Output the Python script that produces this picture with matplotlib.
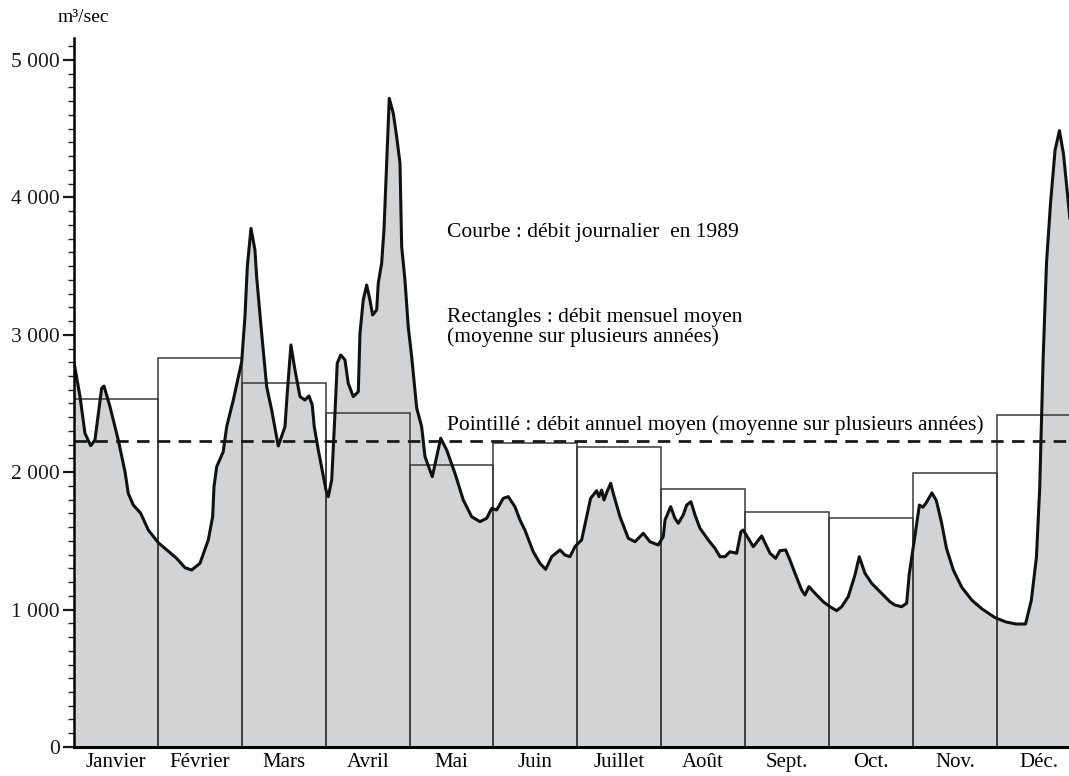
import matplotlib
matplotlib.use("Agg")
import matplotlib.pyplot as plt

# Month names and long-term mean monthly discharge (m3/s)
months = ["Janvier", "Février", "Mars", "Avril", "Mai", "Juin",
          "Juillet", "Août", "Sept.", "Oct.", "Nov.", "Déc."]
monthly_mean = [2530, 2830, 2650, 2430, 2050, 2210,
                2180, 1880, 1710, 1665, 1995, 2415]

# Long-term mean annual discharge
annual_mean = 2225

# Daily discharge in 1989 (x in months from 1 Jan)
day_x = [
    0.000, 0.072, 0.131, 0.199, 0.250, 0.330, 0.358, 0.429, 0.528, 0.608,
    0.647, 0.707, 0.795, 0.886, 1.005, 1.224, 1.323, 1.403, 1.502, 1.601,
    1.653, 1.669, 1.701, 1.779, 1.820, 1.899, 1.999, 2.038, 2.066, 2.110,
    2.157, 2.177, 2.237, 2.297, 2.356, 2.435, 2.515, 2.542, 2.586, 2.634,
    2.694, 2.753, 2.801, 2.840, 2.864, 2.912, 3.004, 3.031, 3.072, 3.111,
    3.138, 3.179, 3.230, 3.269, 3.329, 3.389, 3.409, 3.448, 3.489, 3.528,
    3.560, 3.608, 3.627, 3.667, 3.695, 3.727, 3.758, 3.806, 3.846, 3.886,
    3.906, 3.945, 3.984, 4.025, 4.085, 4.144, 4.184, 4.271, 4.323, 4.371,
    4.442, 4.541, 4.640, 4.740, 4.839, 4.919, 4.979, 5.038, 5.117, 5.176,
    5.256, 5.316, 5.375, 5.474, 5.554, 5.622, 5.694, 5.793, 5.852, 5.912,
    5.971, 6.051, 6.111, 6.158, 6.230, 6.257, 6.290, 6.317, 6.349, 6.397,
    6.428, 6.508, 6.607, 6.687, 6.786, 6.865, 6.964, 7.024, 7.045, 7.112,
    7.163, 7.203, 7.262, 7.303, 7.354, 7.402, 7.461, 7.560, 7.640, 7.700,
    7.759, 7.819, 7.899, 7.950, 7.977, 8.037, 8.097, 8.197, 8.296, 8.363,
    8.415, 8.483, 8.534, 8.594, 8.673, 8.713, 8.760, 8.832, 8.931, 9.011,
    9.091, 9.150, 9.229, 9.309, 9.360, 9.428, 9.508, 9.586, 9.666, 9.726,
    9.785, 9.865, 9.925, 9.956, 10.017, 10.077, 10.118, 10.158, 10.226, 10.279,
    10.340, 10.400, 10.481, 10.582, 10.703, 10.825, 10.977, 11.107, 11.229, 11.342,
    11.411, 11.472, 11.511, 11.552, 11.592, 11.641, 11.694, 11.746, 11.795, 11.870,
]
daily_flow = [
    2800, 2550, 2283, 2193, 2234, 2611, 2627, 2477, 2234, 2004,
    1846, 1761, 1701, 1579, 1487, 1373, 1305, 1288, 1337, 1507,
    1676, 1894, 2040, 2149, 2331, 2525, 2804, 3132, 3496, 3775,
    3617, 3423, 3011, 2622, 2453, 2191, 2331, 2574, 2926, 2744,
    2550, 2525, 2555, 2489, 2331, 2162, 1870, 1822, 1943, 2429,
    2793, 2853, 2817, 2647, 2550, 2586, 3011, 3253, 3362, 3253,
    3144, 3181, 3375, 3520, 3763, 4248, 4721, 4612, 4442, 4248,
    3641, 3399, 3059, 2841, 2467, 2331, 2113, 1967, 2113, 2247,
    2162, 1992, 1798, 1676, 1640, 1664, 1737, 1725, 1810, 1822,
    1749, 1652, 1579, 1421, 1337, 1293, 1385, 1434, 1397, 1385,
    1458, 1507, 1676, 1810, 1865, 1822, 1870, 1798, 1851, 1919,
    1846, 1676, 1519, 1494, 1555, 1494, 1470, 1531, 1652, 1749,
    1664, 1628, 1689, 1761, 1785, 1689, 1592, 1507, 1446, 1385,
    1385, 1421, 1410, 1567, 1579, 1519, 1458, 1536, 1410, 1373,
    1429, 1434, 1361, 1264, 1143, 1106, 1167, 1119, 1057, 1021,
    992, 1021, 1094, 1252, 1385, 1264, 1191, 1143, 1094, 1057,
    1033, 1021, 1046, 1259, 1509, 1761, 1745, 1777, 1849, 1793,
    1635, 1445, 1288, 1162, 1068, 1004, 942, 910, 895, 895,
    1068, 1383, 1887, 2833, 3525, 3967, 4345, 4486, 4313, 3850,
]

plt.rcParams["font.family"] = ["Liberation Serif", "DejaVu Serif"]

fig = plt.figure(figsize=(10.69, 7.76), dpi=100)
ax = fig.add_axes([0.0692, 0.0374, 0.9308, 0.9136])

month_pos = list(range(len(months)))

# Monthly mean rectangles (white), then the grey daily area, then rect outlines
ax.bar(month_pos, monthly_mean, width=1, align="edge",
       color="white", edgecolor="none", zorder=1)
ax.fill_between(day_x, 0, daily_flow, color="#d1d3d4", lw=0, zorder=2)
ax.bar(month_pos, monthly_mean, width=1, align="edge",
       facecolor="none", edgecolor="#3a3a3a", linewidth=1.1, zorder=3)

# Annual mean dashed line
ax.axhline(annual_mean, color="#1a1a1a", linestyle=(0, (4.5, 3)),
           linewidth=2.0, zorder=4)

# Daily curve
ax.plot(day_x, daily_flow, color="#111111", linewidth=2.2,
        solid_joinstyle="round", zorder=5)

ax.set_xlim(0, 11.86)
ax.set_ylim(0, 5160)

# Axis styling
for side in ["top", "right"]:
    ax.spines[side].set_visible(False)
ax.spines["left"].set_linewidth(1.8)
ax.spines["bottom"].set_linewidth(2.2)
ax.spines["left"].set_zorder(6)
ax.spines["bottom"].set_zorder(6)

ax.set_yticks(range(0, 5001, 1000))
ax.set_yticklabels(["0", "1 000", "2 000", "3 000", "4 000", "5 000"],
                   fontsize=15.5)
ax.set_yticks(range(0, 5101, 100), minor=True)
ax.tick_params(axis="y", which="major", length=8, width=1.6,
               direction="out", pad=2, colors="#1a1a1a")
ax.tick_params(axis="y", which="minor", length=4.5, width=1.0,
               direction="out", colors="#1a1a1a")

ax.set_xticks([p + 0.5 for p in month_pos])
ax.set_xticklabels(months, fontsize=15)
ax.tick_params(axis="x", length=0, pad=4)

# Unit label
fig.text(0.0535, 0.978, "m³/sec", fontsize=14, ha="left", va="center")

# Legend texts
ax.text(4.45, 3745, "Courbe : débit journalier  en 1989",
        fontsize=15.5, ha="left", va="center")
ax.text(4.45, 3055, "Rectangles : débit mensuel moyen\n(moyenne sur plusieurs années)",
        fontsize=15.5, ha="left", va="center", linespacing=1.0)
ax.text(4.45, 2345, "Pointillé : débit annuel moyen (moyenne sur plusieurs années)",
        fontsize=15.5, ha="left", va="center", zorder=6)

fig.savefig("out.png", dpi=100)
